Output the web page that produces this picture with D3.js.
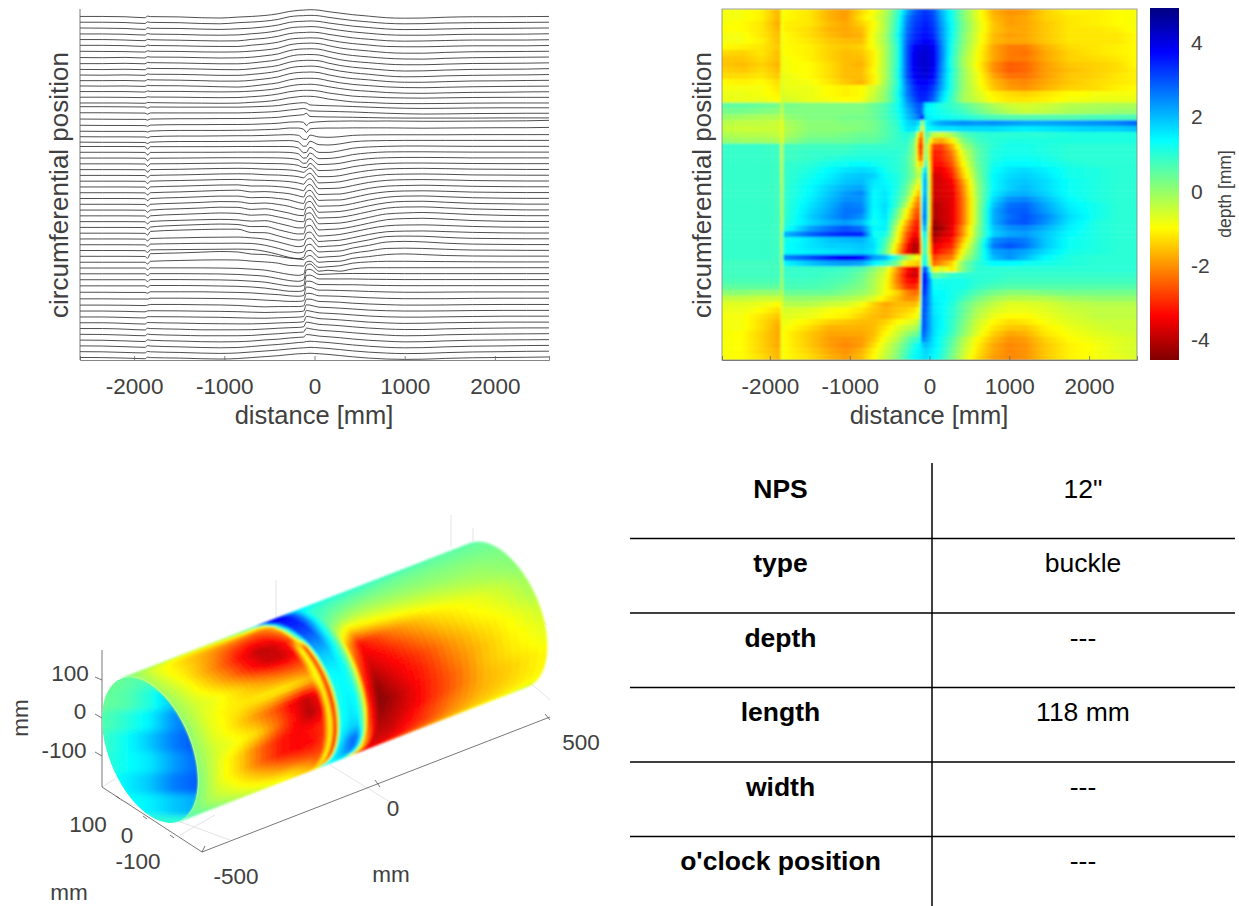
<!DOCTYPE html>
<html>
<head>
<meta charset="utf-8">
<script src="https://cdn.jsdelivr.net/npm/d3@7"></script>
<style>
html, body { margin: 0; padding: 0; background: #fff; }
svg { display: block; font-family: "Liberation Sans", Arial, sans-serif; }
text { fill: #404040; }
.axis path, .axis line { stroke: #666; stroke-width: 0.8; }
.axis text { font-size: 22.5px; fill: #404040; font-family: "Liberation Sans", Arial, sans-serif; }
.label { font-size: 25.5px; }
.trace { fill: none; stroke: #222; stroke-width: 0.8; }
.cell { font-size: 26.5px; fill: #000; }
.rule { stroke: #000; stroke-width: 1.5; }
.line3d { stroke: #555; stroke-width: 0.8; }
.grid3d { stroke: #ddd; stroke-width: 0.8; }
.tick3d { font-size: 22.5px; }
</style>
</head>
<body>
<script>
var xTicks = [-2000, -1000, 0, 1000, 2000];
var barTicks = [-4, -2, 0, 2, 4];
var jetDepths = [-4.54, -3.35, -0.98, 1.38, 3.75, 4.94];
var jetColors = ["#800000", "#ff0000", "#ffff00", "#00ffff", "#0000ff", "#000080"];

// distance of each column in depthRows, mm
var distances = [-2600,-2350,-2100,-1880,-1850,-1820,-1500,-1250,-1050,-850,-700,-550,-400,-280,-180,-120,-90,-50,50,150,280,420,600,800,1000,1200,1450,1750,2100,2350,2600];

// depth in mm, one row per trace, top to bottom
var depthRows = [
[-0.9,-0.9,-1.1,-1.7,-0.7,-1.0,-1.2,-1.7,-1.9,-1.3,-0.9,-0.3,0.8,2.2,2.9,3.1,3.2,3.3,3.0,2.1,1.2,0.2,-0.7,-1.7,-2.0,-1.9,-1.4,-1.1,-1.1,-1.0,-0.9],
[-0.9,-0.9,-1.1,-1.7,-0.7,-1.0,-1.2,-1.7,-1.9,-1.2,-0.8,-0.2,0.9,2.5,3.1,3.2,3.3,3.4,3.1,2.2,1.2,0.2,-0.7,-1.6,-1.9,-1.8,-1.4,-1.2,-1.1,-1.0,-0.9],
[-0.9,-1.0,-1.2,-1.8,-0.7,-1.1,-1.2,-1.6,-1.8,-1.4,-1.0,-0.2,1.0,2.6,3.2,3.3,3.4,3.5,3.2,2.3,1.3,0.3,-0.6,-1.5,-1.9,-1.8,-1.5,-1.2,-1.1,-1.0,-0.9],
[-1.0,-1.0,-1.2,-1.7,-0.7,-1.1,-1.3,-1.7,-1.8,-1.6,-0.9,-0.2,1.1,2.7,3.3,3.4,3.5,3.6,3.3,2.4,1.3,0.3,-0.6,-1.5,-1.8,-1.8,-1.5,-1.2,-1.2,-1.1,-0.9],
[-0.9,-0.9,-1.2,-1.6,-0.7,-1.0,-1.3,-1.6,-1.8,-1.7,-0.8,-0.1,1.2,2.8,3.4,3.5,3.6,3.7,3.4,2.4,1.3,0.2,-0.7,-1.6,-1.9,-1.8,-1.5,-1.2,-1.2,-1.2,-1.0],
[-0.9,-0.9,-1.1,-1.6,-0.7,-1.0,-1.2,-1.5,-1.6,-1.6,-0.8,-0.1,1.1,2.9,3.5,3.6,3.7,3.8,3.6,2.5,1.2,0.2,-0.7,-1.6,-1.8,-1.8,-1.5,-1.2,-1.2,-1.2,-1.0],
[-1.0,-1.1,-1.2,-1.5,-0.7,-1.0,-1.1,-1.4,-1.5,-1.4,-0.9,-0.2,1.0,3.0,3.8,4.0,4.0,4.1,3.8,2.6,1.1,0.1,-0.8,-1.8,-2.2,-2.2,-1.7,-1.3,-1.2,-1.1,-1.0],
[-1.3,-1.4,-1.2,-1.6,-0.7,-1.0,-1.1,-1.4,-1.6,-1.5,-1.1,-0.2,1.0,3.0,3.9,4.1,4.1,4.2,3.9,2.6,1.1,0.0,-0.9,-1.8,-2.2,-2.3,-1.8,-1.4,-1.2,-1.1,-1.0],
[-1.5,-1.5,-1.3,-1.6,-0.7,-0.9,-1.1,-1.4,-1.6,-1.6,-1.1,-0.2,1.0,3.0,4.0,4.1,4.2,4.2,3.9,2.6,1.0,-0.1,-0.9,-1.8,-2.2,-2.2,-1.8,-1.4,-1.3,-1.2,-1.0],
[-1.5,-1.6,-1.4,-1.7,-0.7,-0.9,-1.0,-1.3,-1.6,-1.7,-1.1,-0.2,1.0,3.0,3.9,4.1,4.2,4.2,3.9,2.5,1.0,-0.1,-1.0,-2.0,-2.5,-2.4,-1.9,-1.5,-1.4,-1.3,-1.0],
[-1.4,-1.5,-1.3,-1.6,-0.7,-0.9,-1.0,-1.3,-1.6,-1.6,-1.0,-0.2,1.1,3.0,3.9,4.0,4.1,4.2,3.8,2.5,1.1,0.0,-0.9,-2.0,-2.5,-2.4,-1.9,-1.6,-1.4,-1.3,-1.1],
[-1.3,-1.3,-1.2,-1.5,-0.6,-0.8,-1.0,-1.3,-1.6,-1.6,-1.1,-0.2,1.1,3.0,3.8,4.0,4.0,4.1,3.7,2.4,1.0,0.0,-0.8,-1.8,-2.3,-2.3,-1.9,-1.5,-1.4,-1.2,-1.1],
[-1.0,-1.1,-1.0,-1.3,-0.6,-0.8,-0.9,-1.2,-1.5,-1.7,-1.1,-0.1,1.0,2.8,3.6,3.8,3.8,3.8,3.5,2.3,1.0,0.0,-0.8,-1.6,-2.0,-2.1,-1.8,-1.5,-1.3,-1.2,-1.1],
[-0.9,-0.9,-0.9,-1.2,-0.5,-0.8,-0.8,-1.0,-1.1,-1.0,-0.6,0.0,1.1,2.6,3.4,3.6,3.6,3.7,3.2,2.2,1.0,0.0,-0.7,-1.5,-1.9,-2.0,-1.7,-1.4,-1.3,-1.1,-1.0],
[-0.8,-0.8,-0.9,-1.1,-0.5,-0.7,-0.8,-1.0,-1.1,-1.0,-0.5,0.1,1.2,2.6,3.3,3.5,3.5,3.5,3.0,1.9,0.9,-0.1,-0.6,-1.1,-1.3,-1.4,-1.2,-1.0,-0.9,-0.9,-0.9],
[-0.8,-0.8,-0.8,-1.0,-0.5,-0.6,-0.8,-0.9,-1.0,-0.9,-0.4,0.1,1.1,2.4,3.1,3.4,3.4,3.4,2.8,1.7,0.8,-0.1,-0.5,-1.0,-1.2,-1.2,-1.1,-0.9,-0.8,-0.8,-0.8],
[0.5,0.5,0.4,0.3,-0.5,0.3,0.2,0.2,0.2,0.2,0.4,0.7,1.2,2.2,2.8,3.0,2.8,1.6,1.3,1.1,0.9,0.6,0.2,-0.2,-0.5,-0.6,-0.5,-0.3,-0.2,-0.2,-0.2],
[0.3,0.3,0.2,0.1,-0.6,0.2,0.2,0.2,0.2,0.2,0.4,0.7,1.2,2.0,2.6,3.0,2.6,1.5,1.3,1.2,1.0,0.8,0.4,0.0,-0.3,-0.5,-0.4,-0.2,-0.1,0.0,0.0],
[0.0,-0.1,-0.2,-0.2,-0.7,0.0,0.2,0.2,0.3,0.3,0.4,0.7,1.1,1.9,2.4,2.8,3.6,1.6,1.4,1.3,1.2,1.1,0.9,0.7,0.6,0.6,0.6,0.6,0.7,0.7,0.7],
[-0.3,-0.4,-0.4,-0.5,-0.9,-0.2,0.1,0.1,0.2,0.2,0.3,0.6,1.0,1.7,1.9,1.5,-0.4,1.3,1.9,2.2,2.3,2.4,2.3,2.4,2.3,2.2,2.2,2.3,2.4,2.5,2.8],
[-0.4,-0.5,-0.5,-0.5,-0.9,-0.3,0.1,0.1,0.1,0.2,0.3,0.6,0.9,1.6,1.6,0.8,-1.2,1.1,1.5,1.6,1.6,1.7,1.7,1.7,1.6,1.5,1.6,1.7,1.8,1.8,2.0],
[-0.2,-0.3,-0.3,-0.4,-0.9,-0.2,0.2,0.2,0.3,0.4,0.4,0.6,0.9,1.1,0.7,-1.8,-2.0,0.8,-0.4,-0.6,-0.2,0.6,0.9,1.0,1.0,1.0,1.0,1.1,1.1,1.1,1.1],
[0.0,-0.1,-0.1,-0.2,-0.9,0.0,0.4,0.4,0.4,0.5,0.5,0.7,0.9,1.0,0.2,-2.6,-2.4,0.6,-1.6,-1.8,-1.1,0.2,0.8,1.0,1.1,1.1,1.1,1.1,1.1,1.1,1.1],
[0.9,0.9,0.9,0.8,-0.8,0.8,0.8,0.8,0.8,0.9,0.9,0.9,0.9,0.9,0.0,-3.0,-2.8,0.4,-2.8,-2.8,-1.8,-0.2,0.6,1.0,1.2,1.2,1.1,1.0,1.0,1.0,1.0],
[0.9,0.9,0.9,0.8,-0.8,0.8,0.9,0.9,0.9,1.0,1.0,1.0,1.0,0.8,0.0,-2.8,-2.6,0.5,-3.1,-3.0,-2.2,-0.6,0.5,1.1,1.2,1.2,1.1,1.0,1.0,1.0,1.0],
[0.9,0.9,0.9,0.8,-0.8,0.8,0.9,1.0,1.1,1.1,1.1,1.1,1.0,0.7,-0.1,-2.4,-2.2,0.7,-3.2,-3.0,-2.4,-0.8,0.5,1.1,1.3,1.3,1.2,1.0,1.0,1.0,1.0],
[0.9,0.9,0.9,0.8,-0.7,0.9,1.0,1.2,1.3,1.4,1.3,1.1,1.0,0.7,-0.1,-1.4,-1.4,1.2,-3.3,-3.2,-2.6,-1.0,0.4,1.2,1.4,1.4,1.3,1.1,1.0,1.0,1.0],
[0.9,0.9,0.9,0.8,-0.7,0.9,1.1,1.4,1.6,1.7,1.6,1.2,1.0,0.7,0.0,-0.8,0.4,1.8,-3.5,-3.5,-2.9,-1.3,0.3,1.3,1.6,1.7,1.5,1.2,1.1,1.0,1.0],
[0.9,0.9,0.9,0.8,-0.6,0.9,1.2,1.5,1.8,1.9,1.8,1.3,1.1,0.7,0.1,-0.6,1.0,2.2,-3.8,-3.6,-3.1,-1.5,0.2,1.4,1.7,1.8,1.6,1.2,1.1,1.0,1.0],
[0.9,0.9,0.9,0.8,-0.6,0.9,1.3,1.6,1.9,2.0,1.6,1.4,1.1,0.6,-0.2,-1.0,1.2,2.4,-3.8,-3.7,-3.4,-1.9,0.1,1.4,1.8,1.9,1.7,1.3,1.1,1.0,1.0],
[0.9,0.9,0.9,0.8,-0.6,0.9,1.4,1.8,2.1,2.2,1.5,1.5,1.1,0.4,-0.6,-1.4,1.2,2.4,-3.8,-3.7,-3.5,-2.1,0.0,1.4,1.8,2.0,1.7,1.3,1.1,1.0,1.0],
[0.9,0.9,0.9,0.8,-0.5,0.9,1.4,1.9,2.3,2.5,1.4,1.6,1.0,0.3,-1.0,-1.8,1.4,2.4,-3.9,-3.7,-3.6,-2.2,0.0,1.5,2.0,2.1,1.8,1.3,1.1,1.0,1.0],
[0.9,0.9,0.9,0.8,-0.5,0.9,1.5,2.0,2.4,2.4,1.4,1.6,0.9,0.0,-1.6,-2.2,1.6,2.6,-3.9,-3.8,-3.6,-2.3,-0.1,1.7,2.4,2.5,2.0,1.4,1.1,1.0,1.0],
[0.9,0.9,0.9,0.8,-0.5,0.9,1.6,2.1,2.6,2.5,1.4,1.7,0.8,-0.4,-2.0,-2.4,1.8,2.7,-4.1,-3.9,-3.6,-2.3,-0.1,1.9,2.7,2.8,2.2,1.5,1.2,1.0,1.0],
[0.9,0.9,0.9,0.8,-0.5,0.9,1.7,2.2,2.7,2.6,1.3,1.7,0.4,-1.0,-2.4,-2.6,2.0,2.7,-4.1,-3.9,-3.6,-2.3,-0.1,2.1,2.8,2.9,2.3,1.6,1.2,1.0,1.0],
[0.9,0.9,0.9,0.8,-0.5,0.9,1.8,2.3,2.7,2.4,1.3,1.6,0.2,-1.2,-2.6,-2.8,2.2,2.8,-4.1,-3.9,-3.6,-2.3,-0.1,2.1,2.7,3.0,2.5,1.7,1.2,1.0,1.0],
[0.9,0.9,0.9,0.8,-0.5,1.0,1.7,2.1,2.3,2.0,1.2,1.5,-0.2,-1.8,-3.0,-3.0,2.0,2.6,-4.3,-4.0,-3.6,-2.3,-0.1,2.1,2.8,3.0,2.4,1.6,1.1,1.0,1.0],
[0.9,0.9,0.9,0.8,-0.5,1.1,2.2,2.7,3.0,2.7,1.4,1.5,-0.6,-2.2,-3.2,-3.1,1.6,2.2,-4.5,-4.2,-3.5,-2.0,0.1,1.9,2.4,2.5,2.1,1.5,1.1,1.0,1.0],
[0.9,0.9,0.9,0.8,-0.3,2.0,2.8,3.2,3.4,3.4,1.3,1.2,-0.8,-2.6,-3.4,-3.0,1.0,1.6,-4.3,-3.9,-3.5,-2.0,0.1,1.8,2.2,2.3,1.9,1.4,1.1,1.0,1.0],
[0.9,0.9,0.9,0.8,-0.3,1.2,1.6,1.9,2.0,2.1,1.6,0.8,-1.0,-2.8,-3.9,-3.3,0.6,1.4,-4.0,-3.6,-3.2,-1.6,0.3,2.4,2.7,2.6,1.9,1.3,1.1,1.0,1.0],
[0.9,0.9,0.9,0.8,-0.3,1.3,1.6,1.8,1.8,1.9,1.7,0.6,-1.4,-3.2,-4.2,-3.5,0.4,1.2,-3.6,-3.3,-3.0,-1.2,0.5,2.6,3.0,2.7,1.9,1.3,1.1,1.0,1.0],
[0.9,0.9,0.9,0.8,-0.3,1.3,1.5,1.6,1.7,1.8,1.6,0.4,-1.6,-3.4,-4.2,-3.4,0.4,1.0,-3.4,-3.0,-2.6,-0.8,0.6,2.2,2.4,2.2,1.7,1.2,1.1,1.0,1.0],
[0.9,0.9,0.9,0.8,-0.3,2.5,3.0,3.5,3.9,3.6,2.3,2.0,0.8,-0.2,-0.8,-1.2,0.6,1.4,-2.8,-2.4,-2.2,-0.4,0.7,2.0,2.4,2.0,1.4,1.1,1.0,1.0,1.0],
[0.8,0.8,0.8,0.8,-0.3,1.4,1.9,2.2,2.3,2.2,1.5,1.0,0.2,-1.2,-1.4,-1.6,1.0,1.4,-2.4,-2.0,-1.4,0.2,1.0,1.4,1.4,1.3,1.2,1.1,1.0,1.0,1.0],
[0.8,0.8,0.8,0.8,-0.3,0.9,0.9,0.9,0.8,0.6,0.1,-0.5,-2.0,-3.2,-3.8,-3.0,2.4,3.3,-1.2,-0.6,-1.2,0.2,1.0,1.0,1.0,1.0,1.0,1.0,1.0,1.0,1.0],
[0.8,0.8,0.8,0.8,-0.3,0.9,0.9,0.8,0.7,0.4,-0.1,-0.7,-2.2,-3.4,-3.9,-3.0,3.2,3.6,0.4,0.6,0.9,1.0,1.0,1.0,0.9,0.9,0.9,0.9,0.9,0.9,0.9],
[0.7,0.7,0.7,0.7,-0.4,0.8,0.8,0.7,0.6,0.3,-0.2,-0.8,-2.2,-3.2,-3.4,-2.8,3.4,3.6,1.2,1.2,1.2,1.2,1.0,0.9,0.8,0.8,0.8,0.8,0.8,0.8,0.8],
[0.5,0.5,0.5,0.5,-0.4,0.7,0.7,0.6,0.4,0.2,-0.2,-0.9,-2.0,-2.9,-3.0,-2.4,3.4,3.4,1.3,1.3,1.2,1.2,0.9,0.7,0.6,0.6,0.6,0.6,0.6,0.6,0.6],
[0.1,0.1,0.0,0.0,-0.5,0.4,0.4,0.4,0.2,0.0,-0.3,-0.9,-1.4,-2.1,-2.4,-2.0,3.4,3.2,1.4,1.4,1.2,1.0,0.6,0.3,0.1,0.1,0.2,0.3,0.3,0.3,0.3],
[-0.4,-0.4,-0.5,-0.5,-0.6,0.0,0.0,-0.1,-0.2,-0.4,-0.7,-1.2,-1.6,-2.0,-2.0,-1.6,3.0,3.0,1.5,1.4,1.2,0.8,0.3,-0.1,-0.3,-0.3,-0.3,-0.1,0.0,0.0,0.0],
[-0.7,-0.7,-0.8,-1.0,-0.7,-0.3,-0.3,-0.5,-0.6,-0.9,-1.4,-1.8,-1.6,-1.6,-1.6,-1.2,3.0,3.0,1.6,1.4,1.1,0.5,0.0,-0.4,-0.7,-0.7,-0.6,-0.4,-0.3,-0.3,-0.3],
[-0.8,-0.8,-1.0,-1.3,-0.7,-0.6,-0.7,-0.9,-1.0,-1.2,-1.5,-1.7,-1.5,-1.4,-1.2,-0.8,3.1,2.9,1.6,1.4,1.0,0.5,-0.2,-0.6,-0.8,-0.8,-0.7,-0.5,-0.4,-0.4,-0.4],
[-0.9,-0.9,-1.2,-1.5,-0.7,-0.7,-0.8,-1.0,-1.1,-1.4,-1.6,-1.7,-1.4,-1.2,-1.0,-0.6,3.2,2.8,1.7,1.4,1.0,0.4,-0.3,-0.8,-1.0,-1.0,-0.8,-0.6,-0.4,-0.4,-0.4],
[-0.9,-0.9,-1.3,-1.7,-0.7,-0.8,-1.1,-1.4,-1.5,-1.6,-1.6,-1.4,-1.0,-0.8,-0.6,-0.2,3.1,2.8,1.7,1.4,0.9,0.3,-0.5,-1.0,-1.3,-1.2,-0.9,-0.7,-0.5,-0.5,-0.5],
[-0.9,-0.9,-1.3,-1.8,-0.7,-0.9,-1.3,-1.7,-1.7,-1.7,-1.6,-1.2,-0.7,-0.4,-0.2,0.2,3.1,2.8,1.7,1.4,0.9,0.2,-0.6,-1.2,-1.5,-1.5,-1.1,-0.8,-0.6,-0.5,-0.5],
[-0.9,-1.0,-1.4,-1.8,-0.7,-1.0,-1.5,-1.8,-1.8,-1.8,-1.6,-1.0,-0.5,0.0,0.3,0.6,3.0,2.6,1.7,1.3,0.8,0.1,-0.7,-1.4,-1.8,-1.7,-1.2,-0.9,-0.7,-0.6,-0.5],
[-0.9,-1.0,-1.4,-1.8,-0.7,-1.0,-1.5,-1.9,-2.0,-1.9,-1.5,-0.8,-0.3,0.4,0.8,1.0,2.6,2.4,1.6,1.2,0.6,-0.2,-1.0,-1.6,-2.0,-1.9,-1.4,-1.0,-0.8,-0.7,-0.6],
[-0.9,-1.0,-1.4,-1.8,-0.7,-1.0,-1.5,-1.9,-2.1,-1.9,-1.3,-0.6,0.0,0.6,1.2,1.4,1.8,2.0,1.6,1.2,0.5,-0.3,-1.1,-1.8,-2.1,-2.0,-1.5,-1.1,-0.9,-0.7,-0.6],
[-0.9,-1.0,-1.4,-1.7,-0.7,-1.0,-1.4,-1.8,-2.0,-1.7,-1.1,-0.5,0.1,0.8,1.3,1.5,1.6,1.8,1.5,1.1,0.4,-0.4,-1.2,-1.8,-2.1,-2.0,-1.5,-1.1,-0.9,-0.7,-0.6],
[-0.9,-1.0,-1.3,-1.7,-0.7,-1.0,-1.3,-1.7,-1.9,-1.6,-1.0,-0.4,0.2,0.9,1.4,1.5,1.6,1.7,1.4,1.0,0.3,-0.5,-1.3,-1.9,-2.1,-2.0,-1.5,-1.1,-0.9,-0.8,-0.6]
];

// tube surface, axial position mm and angle around the tube in degrees
var tubeX = [-500,-440,-380,-320,-260,-210,-170,-140,-120,-105,-90,-60,-40,-25,-10,20,60,110,170,240,320,400,500];
var tubeAngle = [127,115,103,91,79,67,55,43,31,19,7,-5,-17,-29,-41,-53];
var tubeDepth = [
[0.4,0.1,-0.1,-0.2,-0.2,0.0,0.2,0.7,1.2,2.4,3.3,3.6,3.2,2.4,1.8,1.3,1.1,1.0,0.9,0.8,0.7,0.6,0.6],
[0.2,-0.5,-0.9,-1.1,-1.0,-0.8,-0.5,-0.8,-0.2,2.6,3.8,3.8,3.2,2.4,1.6,1.2,1.0,0.9,0.8,0.7,0.6,0.5,0.5],
[0.0,-0.8,-1.3,-1.7,-2.0,-2.2,-2.4,-2.2,-1.6,1.8,3.6,3.6,2.8,1.8,1.0,0.8,0.7,0.6,0.5,0.4,0.4,0.4,0.4],
[-0.1,-0.9,-1.4,-2.0,-2.8,-3.2,-3.1,-2.6,-2.0,1.0,3.4,3.4,2.4,1.4,0.8,0.5,0.3,0.2,0.2,0.2,0.2,0.2,0.3],
[-0.1,-0.8,-1.6,-2.4,-3.4,-4.0,-3.8,-3.2,-2.6,0.4,3.0,3.0,1.8,1.0,0.3,-0.1,-0.3,-0.3,-0.2,-0.1,0.0,0.0,0.2],
[0.0,-0.7,-1.4,-2.2,-3.2,-3.8,-3.8,-3.4,-0.8,-3.0,2.4,2.4,1.5,0.6,-0.6,-1.4,-1.2,-1.0,-0.8,-0.6,-0.4,-0.2,0.1],
[0.0,-0.6,-0.9,-1.4,-2.0,-2.4,-2.6,-2.6,-0.8,-3.0,1.8,1.8,1.2,0.3,-1.8,-3.2,-2.8,-2.2,-1.7,-1.2,-0.9,-0.6,-0.1],
[0.1,-0.7,-1.1,-1.2,-1.1,-1.1,-1.3,-1.6,-0.8,-3.0,1.4,1.5,1.2,0.0,-2.4,-3.6,-3.3,-2.8,-2.2,-1.6,-1.1,-0.8,-0.2],
[0.1,-0.7,-1.2,-1.9,-2.6,-3.4,-3.9,-3.4,-0.9,-3.2,1.2,1.4,1.1,-0.2,-2.8,-4.0,-3.6,-3.2,-2.7,-2.0,-1.4,-1.0,-0.5],
[0.1,-0.6,-0.9,-1.3,-2.4,-3.4,-4.1,-3.6,-0.9,-3.2,1.2,1.5,1.3,-0.1,-3.0,-4.4,-3.9,-3.4,-2.9,-2.2,-1.6,-1.1,-0.7],
[0.2,-0.7,-1.4,-2.4,-3.2,-3.4,-3.2,-3.0,-0.9,-3.0,1.2,1.6,1.4,0.1,-2.8,-4.5,-4.2,-3.6,-3.0,-2.4,-1.6,-1.2,-0.8],
[0.3,-0.7,-1.4,-2.4,-3.2,-3.4,-3.3,-2.9,-0.9,-3.2,1.4,1.8,1.8,0.4,-2.6,-4.3,-4.0,-3.6,-3.0,-2.4,-1.7,-1.4,-1.0],
[0.3,-0.5,-1.0,-1.6,-2.2,-2.6,-2.8,-2.8,-0.9,-3.2,1.4,2.6,2.8,1.4,-2.0,-4.0,-3.9,-3.4,-2.8,-2.2,-1.7,-1.4,-1.0],
[0.4,-0.2,-0.6,-1.0,-1.4,-1.6,-2.0,-2.4,-0.9,-3.0,1.4,2.4,2.8,1.8,-1.2,-3.8,-3.8,-3.3,-2.8,-2.1,-1.6,-1.3,-1.0],
[0.6,0.2,-0.2,-0.6,-0.9,-1.1,-1.4,-1.8,-1.4,-1.8,1.2,1.8,2.0,1.6,-0.6,-3.6,-3.6,-3.2,-2.6,-2.0,-1.5,-1.2,-0.8],
[0.8,0.5,0.1,-0.3,-0.7,-0.9,-1.2,-1.4,-1.4,-1.0,1.0,1.4,1.4,1.0,-0.4,-3.2,-3.2,-2.8,-2.3,-1.7,-1.2,-0.9,-0.5]
];

// inside of the open tube end seen through the left rim, top to bottom
var capX = [-48, -24, 0, 24, 48];
var capY = [-74, -53, -32, -11, 10, 31, 52, 74];
var capDepth = [
[0.3,0.5,0.8,1.5,2.0],
[0.4,0.6,1.1,2.0,2.6],
[0.6,1.0,1.5,2.4,2.9],
[0.8,1.3,1.9,2.6,3.0],
[0.9,1.3,1.6,2.3,2.8],
[1.0,1.5,1.9,2.6,2.9],
[0.9,1.3,1.5,1.9,2.2],
[0.6,0.8,0.9,1.0,1.0]
];

var tableLabels = ["NPS", "type", "depth", "length", "width", "o'clock position"];
var tableValues = ["12\"", "buckle", "---", "118 mm", "---", "---"];

var width = 1239, height = 906;
var svg = d3.select("body").append("svg").attr("width", width).attr("height", height);
var defs = svg.append("defs");

var jet = d3.scaleLinear().domain(jetDepths).range(jetColors);

function blurFilter(id, dev) {
    defs.append("filter").attr("id", id)
        .attr("x", "-5%").attr("y", "-5%").attr("width", "110%").attr("height", "110%")
        .append("feGaussianBlur").attr("stdDeviation", dev);
}
blurFilter("soft", 0.8);
blurFilter("heatSoft", "1.3 0.8");
blurFilter("capSoft", 3);

docMain();

function docMain() {
    drawTraces();
    drawHeat();
    drawTube();
    drawTable();
}

function xAxis(g, x, bottom, tickLen) {
    g.attr("class", "axis")
        .attr("transform", "translate(0," + bottom + ")")
        .call(d3.axisBottom(x).tickValues(xTicks).tickSize(-tickLen).tickFormat(d3.format("d")).tickPadding(18))
        .call(function (s) { s.selectAll("text").text(function (d) { return d; }); });
}

function yTitle(x, y, size) {
    svg.append("text")
        .attr("transform", "translate(" + x + "," + y + ") rotate(-90)")
        .attr("text-anchor", "middle")
        .style("font-size", size + "px")
        .text("circumferential position");
}

function drawTraces() {
    var left = 80, right = 549, top = 9, bottom = 360;
    var x = d3.scaleLinear().domain([-2600, 2600]).range([left, right]);
    var row = d3.scaleLinear().domain([0, depthRows.length - 1]).range([15, 356]);
    var dy = d3.scaleLinear().domain([-1, 1]).range([1.6, -1.6]);

    var line = d3.line()
        .x(function (d, i) { return x(distances[i]); })
        .curve(d3.curveMonotoneX);

    svg.append("g").selectAll("path").data(depthRows).enter().append("path")
        .attr("class", "trace")
        .attr("d", function (r, k) {
            return line.y(function (d) { return row(k) + dy(d); })(r);
        });

    svg.append("g").call(xAxis, x, bottom, 4);
    svg.append("line").attr("class", "line3d")
        .attr("x1", left).attr("x2", left).attr("y1", top).attr("y2", bottom);

    svg.append("text").attr("class", "label").attr("x", 314).attr("y", 424)
        .attr("text-anchor", "middle").text("distance [mm]");
    yTitle(68, 185, 26);
}

function rowGradient(id, xs, values, scale) {
    var stops = [];
    for (var i = 0; i < xs.length - 1; i++) {
        var pos = d3.interpolateNumber(xs[i], xs[i + 1]);
        var val = d3.interpolateNumber(values[i], values[i + 1]);
        for (var s = 0; s < 4; s++) {
            stops.push({ at: scale(pos(s / 4)), c: jet(val(s / 4)) });
        }
    }
    stops.push({ at: scale(xs[xs.length - 1]), c: jet(values[values.length - 1]) });

    defs.append("linearGradient").attr("id", id)
        .selectAll("stop").data(stops).enter().append("stop")
        .attr("offset", function (d) { return d.at; })
        .attr("stop-color", function (d) { return d.c; });
}

function drawHeat() {
    var left = 722, right = 1137, top = 9, bottom = 360;
    var x = d3.scaleLinear().domain([-2600, 2600]).range([left, right]);
    var row = d3.scaleBand().domain(d3.range(depthRows.length)).range([top, bottom]);
    var frac = d3.scaleLinear().domain([-2600, 2600]).range([0, 1]);

    defs.append("clipPath").attr("id", "heatClip").append("rect")
        .attr("x", left).attr("y", top).attr("width", right - left).attr("height", bottom - top);

    depthRows.forEach(function (r, k) {
        rowGradient("heatRow" + k, distances, r, frac);
        // pin the fill to the plot, the rects are wider so the blur has no soft edge
        d3.select("#heatRow" + k)
            .attr("gradientUnits", "userSpaceOnUse")
            .attr("x1", left).attr("x2", right).attr("y1", 0).attr("y2", 0);
    });

    svg.append("g").attr("clip-path", "url(#heatClip)")
        .append("g").attr("filter", "url(#heatSoft)")
        .selectAll("rect").data(depthRows).enter().append("rect")
        .attr("x", left - 6)
        .attr("width", right - left + 12)
        .attr("y", function (d, k) { return row(k); })
        .attr("height", row.bandwidth() + 0.4)
        .attr("fill", function (d, k) { return "url(#heatRow" + k + ")"; });

    svg.append("rect").attr("x", left).attr("y", top)
        .attr("width", right - left).attr("height", bottom - top)
        .attr("fill", "none").attr("stroke", "#777").attr("stroke-width", 0.7);
    svg.append("g").call(xAxis, x, bottom, 4);

    svg.append("text").attr("class", "label").attr("x", 929).attr("y", 424)
        .attr("text-anchor", "middle").text("distance [mm]");
    yTitle(711, 185, 26);

    // colour bar
    var barLeft = 1150, barRight = 1179, barTop = 8, barBottom = 360;
    var bar = d3.scaleLinear().domain([-4.54, 4.94]).range([barBottom, barTop]);
    var grad = defs.append("linearGradient").attr("id", "barFill")
        .attr("x1", 0).attr("x2", 0).attr("y1", 1).attr("y2", 0);
    grad.selectAll("stop").data(jetDepths).enter().append("stop")
        .attr("offset", function (d) { return (d + 4.54) / 9.48; })
        .attr("stop-color", function (d) { return jet(d); });
    svg.append("rect").attr("x", barLeft).attr("y", barTop)
        .attr("width", barRight - barLeft).attr("height", barBottom - barTop)
        .attr("fill", "url(#barFill)");
    svg.append("g").attr("class", "axis")
        .attr("transform", "translate(" + barRight + ",0)")
        .call(d3.axisRight(bar).tickValues(barTicks).tickSize(0).tickPadding(12).tickFormat(d3.format("d")))
        .call(function (s) {
            s.select(".domain").remove();
            s.selectAll("text").text(function (d) { return d; }).style("font-size", "21px");
        });
    svg.append("text")
        .attr("transform", "translate(1231,194) rotate(-90)")
        .attr("text-anchor", "middle")
        .style("font-size", "17.5px")
        .text("depth [mm]");
}

function tubePoint(xmm, deg) {
    var t = d3.scaleLinear().domain([-500, 500]).range([0, 1])(xmm);
    var a = deg * Math.PI / 180;
    return [150 + 349 * t + 48 * Math.cos(a), 750 - 135 * t + 31 * Math.cos(a) - 66 * Math.sin(a)];
}

function drawTube() {
    var floor3d = svg.append("g");
    var gridLines = [
        [276, 580, 276, 622], [451, 515, 451, 547], [473, 528, 473, 541],
        [527, 605, 547, 625], [527, 680, 550, 700], [102, 787, 170, 745],
        [120, 800, 230, 840], [330, 765, 395, 805], [180, 835, 215, 815]
    ];
    floor3d.selectAll("line.grid3d").data(gridLines).enter().append("line")
        .attr("class", "grid3d")
        .attr("x1", function (d) { return d[0]; }).attr("y1", function (d) { return d[1]; })
        .attr("x2", function (d) { return d[2]; }).attr("y2", function (d) { return d[3]; });

    var axisLines = [
        [102, 650, 102, 787], [102, 787, 202, 852], [202, 852, 550, 717],
        [95, 677, 102, 680], [95, 714, 102, 718], [95, 752, 102, 756],
        [116, 796, 120, 799], [143, 816, 147, 819], [170, 835, 174, 838],
        [205, 846, 202, 852], [375, 780, 380, 787], [545, 714, 550, 720]
    ];
    floor3d.selectAll("line.line3d").data(axisLines).enter().append("line")
        .attr("class", "line3d")
        .attr("x1", function (d) { return d[0]; }).attr("y1", function (d) { return d[1]; })
        .attr("x2", function (d) { return d[2]; }).attr("y2", function (d) { return d[3]; });

    // open end
    var capFrac = d3.scaleLinear().domain([-48, 48]).range([0, 1]);
    defs.append("clipPath").attr("id", "capClip").append("path")
        .attr("d", "M" + d3.range(0, 360, 6).map(function (deg) {
            return tubePoint(-500, deg).join(",");
        }).join("L") + "Z");
    capDepth.forEach(function (r, k) {
        rowGradient("capRow" + k, capX, r, capFrac);
        d3.select("#capRow" + k).attr("gradientUnits", "userSpaceOnUse")
            .attr("x1", 102).attr("x2", 198).attr("y1", 0).attr("y2", 0);
    });
    svg.append("g").attr("clip-path", "url(#capClip)")
        .append("g").attr("filter", "url(#capSoft)")
        .selectAll("rect").data(capDepth).enter().append("rect")
        .attr("x", 90).attr("width", 120)
        .attr("y", function (d, k) { return 750 + capY[k] - 8; })
        .attr("height", 26)
        .attr("fill", function (d, k) { return "url(#capRow" + k + ")"; });

    // outside of the tube, each grid cell split in small quads
    var n = 4, quads = [];
    tubeDepth.slice(0, -1).forEach(function (r, j) {
        r.slice(0, -1).forEach(function (d, i) {
            var xAt = d3.interpolateNumber(tubeX[i], tubeX[i + 1]);
            var aAt = d3.interpolateNumber(tubeAngle[j], tubeAngle[j + 1]);
            var up = d3.interpolateNumber(r[i], r[i + 1]);
            var dn = d3.interpolateNumber(tubeDepth[j + 1][i], tubeDepth[j + 1][i + 1]);
            for (var p = 0; p < n; p++) {
                for (var q = 0; q < n; q++) {
                    quads.push({
                        pts: [
                            tubePoint(xAt(p / n), aAt(q / n)),
                            tubePoint(xAt((p + 1) / n), aAt(q / n)),
                            tubePoint(xAt((p + 1) / n), aAt((q + 1) / n)),
                            tubePoint(xAt(p / n), aAt((q + 1) / n))
                        ],
                        v: d3.interpolateNumber(up((p + 0.5) / n), dn((p + 0.5) / n))((q + 0.5) / n)
                    });
                }
            }
        });
    });
    svg.append("g").attr("filter", "url(#soft)")
        .selectAll("path").data(quads).enter().append("path")
        .attr("d", function (d) { return "M" + d.pts.join("L") + "Z"; })
        .attr("fill", function (d) { return jet(d.v); })
        .attr("stroke", function (d) { return jet(d.v); })
        .attr("stroke-width", 0.6);

    // tick labels
    var labels = [
        ["100", 70, 681], ["0", 80, 719], ["-100", 64, 758],
        ["100", 88, 832], ["0", 127, 843], ["-100", 138, 869],
        ["-500", 236, 884], ["0", 393, 816], ["500", 581, 750],
        ["mm", 391, 882], ["mm", 69, 900]
    ];
    svg.append("g").selectAll("text").data(labels).enter().append("text")
        .attr("class", "tick3d")
        .attr("x", function (d) { return d[1]; })
        .attr("y", function (d) { return d[2]; })
        .attr("text-anchor", "middle")
        .text(function (d) { return d[0]; });
    svg.append("text").attr("class", "tick3d")
        .attr("transform", "translate(28,718) rotate(-90)")
        .attr("text-anchor", "middle").text("mm");
}

function drawTable() {
    var left = 630, right = 1235, mid = 932;
    var rowY = d3.scaleLinear().domain([0, 1]).range([489, 563.4]);
    var ruleY = d3.scaleLinear().domain([0, 1]).range([538.5, 613]);

    svg.append("line").attr("class", "rule")
        .attr("x1", mid).attr("x2", mid).attr("y1", 463).attr("y2", 906);

    svg.append("g").selectAll("line").data(d3.range(tableLabels.length - 1)).enter().append("line")
        .attr("class", "rule")
        .attr("x1", left).attr("x2", right)
        .attr("y1", function (d) { return ruleY(d); })
        .attr("y2", function (d) { return ruleY(d); });

    svg.append("g").selectAll("text").data(tableLabels).enter().append("text")
        .attr("class", "cell")
        .attr("x", 780.5)
        .attr("y", function (d, i) { return rowY(i) + 9; })
        .attr("text-anchor", "middle")
        .style("font-weight", "bold")
        .text(function (d) { return d; });

    svg.append("g").selectAll("text").data(tableValues).enter().append("text")
        .attr("class", "cell")
        .attr("x", 1083)
        .attr("y", function (d, i) { return rowY(i) + 9; })
        .attr("text-anchor", "middle")
        .text(function (d) { return d; });
}
</script>
</body>
</html>
